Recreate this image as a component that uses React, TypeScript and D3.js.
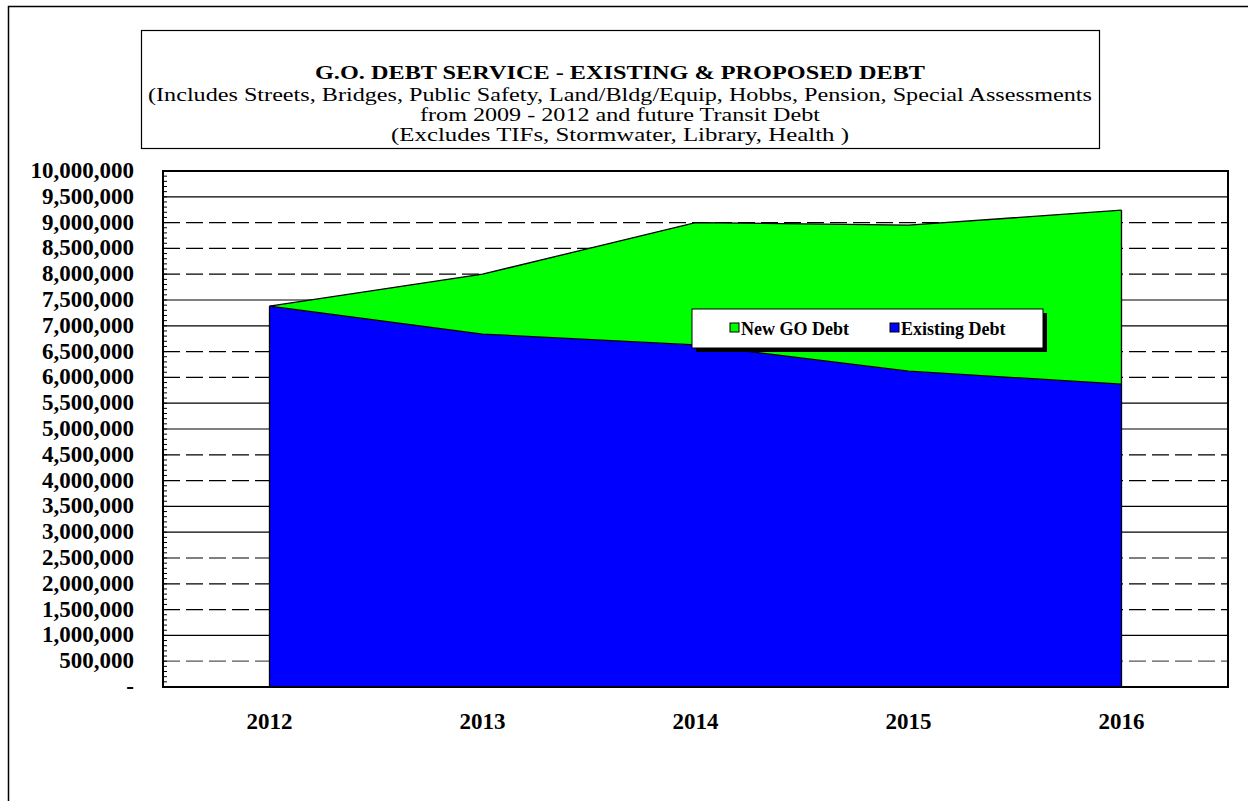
import React from "react";
import * as d3 from "d3";

const years = ["2012", "2013", "2014", "2015", "2016"];
const existingDebt = [7380000, 6840000, 6630000, 6120000, 5870000];
const newGoDebt = [0, 1160000, 2370000, 2830000, 3370000];
const yTicks = d3.range(0, 10000001, 500000);
const dashedTicks = [9000000, 8500000, 8000000, 6500000, 6000000, 4500000, 4000000, 2500000, 2000000, 1500000, 500000];
const titleMain = "G.O. DEBT SERVICE - EXISTING & PROPOSED DEBT";
const titleLines = [
  "(Includes Streets, Bridges, Public Safety, Land/Bldg/Equip,  Hobbs, Pension, Special Assessments",
  "from 2009 - 2012 and future Transit Debt",
  "(Excludes TIFs, Stormwater, Library, Health )",
];
const legendLabels = ["New GO  Debt", "Existing Debt"];

const W = 1248, H = 801;
const m = { left: 163, top: 171, right: 1228, bottom: 687 };
const font = "'Liberation Serif', 'Times New Roman', serif";

export default function App() {
  const x = d3.scaleBand().domain(years).range([m.left, m.right]);
  const cx = (d: string) => (x(d) as number) + x.bandwidth() / 2;
  const y = d3.scaleLinear().domain([0, 10000000]).range([m.bottom, m.top]);
  const totals = existingDebt.map((v, i) => v + newGoDebt[i]);

  const areaExisting = d3.area<number>().x((_, i) => cx(years[i])).y0(y(0)).y1((d) => y(d));
  const areaNew = d3
    .area<number>()
    .x((_, i) => cx(years[i]))
    .y0((_, i) => y(existingDebt[i]))
    .y1((d) => y(d));
  const line = d3.line<number>().x((_, i) => cx(years[i])).y((d) => y(d));
  const minorTicks = d3.range(0, 10000001, 100000);

  const fmt = (v: number) => (v === 0 ? "-" : d3.format(",")(v));

  return (
    <svg width={W} height={H} style={{ position: "absolute", left: 0, top: 0 }}>
      <rect x={0} y={0} width={W} height={H} fill="#fff" />
      {/* outer frame */}
      <rect x={8.5} y={6.5} width={W + 20} height={H + 20} fill="none" stroke="#000" strokeWidth={1.5} />
      {/* title box */}
      <rect x={141.5} y={30.5} width={958} height={118} fill="#fff" stroke="#000" strokeWidth={1.2} />
      <text x={620} y={79} textAnchor="middle" fontFamily={font} fontWeight="bold" fontSize={19} textLength={610} lengthAdjust="spacingAndGlyphs">
        {titleMain}
      </text>
      <text x={620} y={101} textAnchor="middle" fontFamily={font} fontSize={19} textLength={944} lengthAdjust="spacingAndGlyphs">
        {titleLines[0]}
      </text>
      <text x={620} y={121} textAnchor="middle" fontFamily={font} fontSize={19} textLength={400} lengthAdjust="spacingAndGlyphs">
        {titleLines[1]}
      </text>
      <text x={620} y={141} textAnchor="middle" fontFamily={font} fontSize={19} textLength={458} lengthAdjust="spacingAndGlyphs">
        {titleLines[2]}
      </text>

      {/* gridlines */}
      {yTicks
        .filter((t) => t > 0 && t < 10000000)
        .map((t) => (
          <line
            key={t}
            x1={m.left}
            x2={m.right}
            y1={y(t)}
            y2={y(t)}
            stroke={t === 500000 ? "#555" : "#000"}
            strokeWidth={1.2}
            strokeDasharray={dashedTicks.includes(t) ? "17,6" : undefined}
          />
        ))}

      {/* areas */}
      <path d={areaExisting(existingDebt) || ""} fill="#0000ff" stroke="none" />
      <path d={areaNew(totals) || ""} fill="#00ff00" stroke="none" />
      <path d={line(totals) || ""} fill="none" stroke="#000" strokeWidth={1.3} />
      <path d={line(existingDebt) || ""} fill="none" stroke="#000" strokeWidth={1.3} />
      <line x1={cx(years[0])} x2={cx(years[0])} y1={y(0)} y2={y(existingDebt[0])} stroke="#000" strokeWidth={1.3} />
      <line x1={cx(years[4])} x2={cx(years[4])} y1={y(0)} y2={y(totals[4])} stroke="#000" strokeWidth={1.3} />

      {/* plot frame */}
      <rect x={m.left} y={m.top} width={m.right - m.left} height={m.bottom - m.top} fill="none" stroke="#000" strokeWidth={2} />
      {minorTicks.map((t) => (
        <line key={"m" + t} x1={m.left} x2={m.left + 4} y1={y(t)} y2={y(t)} stroke="#000" strokeWidth={1} />
      ))}

      {/* y labels */}
      {yTicks.map((t) => (
        <text key={"l" + t} x={134} y={y(t) + 7} textAnchor="end" fontFamily={font} fontWeight="bold" fontSize={23}>
          {fmt(t)}
        </text>
      ))}

      {/* x labels */}
      {years.map((yr) => (
        <text key={yr} x={cx(yr)} y={729} textAnchor="middle" fontFamily={font} fontWeight="bold" fontSize={23}>
          {yr}
        </text>
      ))}

      {/* legend */}
      <rect x={696} y={313} width={351} height={39} fill="#000" />
      <rect x={692} y={309} width={351} height={39} fill="#fff" stroke="#000" strokeWidth={1} />
      <rect x={730} y={323} width={9} height={9} fill="#00ff00" stroke="#000" strokeWidth={1} />
      <text x={741} y={335} fontFamily={font} fontWeight="bold" fontSize={18}>
        {legendLabels[0]}
      </text>
      <rect x={890} y={323} width={9} height={9} fill="#0000ff" stroke="#000" strokeWidth={1} />
      <text x={901} y={335} fontFamily={font} fontWeight="bold" fontSize={18}>
        {legendLabels[1]}
      </text>
    </svg>
  );
}
